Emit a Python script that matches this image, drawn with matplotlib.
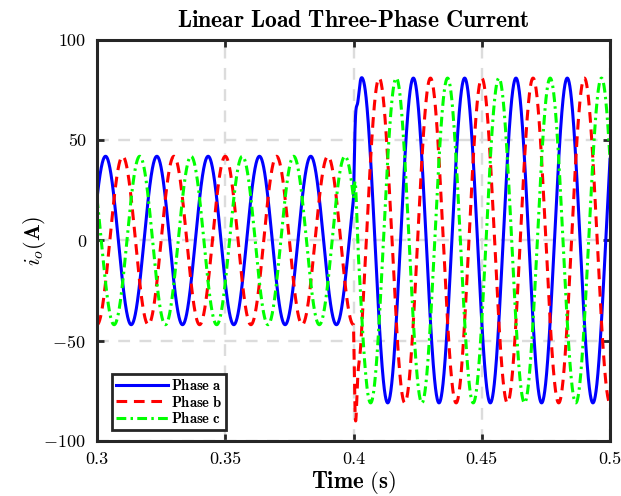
import numpy as np
import matplotlib
matplotlib.use("Agg")
import matplotlib.pyplot as plt

plt.rcParams["mathtext.fontset"] = "cm"
plt.rcParams["font.family"] = "serif"
plt.rcParams["font.serif"] = ["cmr10", "DejaVu Serif"]
plt.rcParams["axes.formatter.use_mathtext"] = True

# signal parameters
t_start, t_end = 0.3, 0.5
freq_hz = 50.0
step_time = 0.4
amp_before = 42.0
amp_after = 81.0
phase_deg = [30.0, -90.0, 150.0]
ring_hz = 500.0
ring_tau = 0.00079
labels = [r"$\mathbf{Phase\ a}$", r"$\mathbf{Phase\ b}$", r"$\mathbf{Phase\ c}$"]
colors = ["#0000ff", "#ff0000", "#00ff00"]
styles = ["-", (0, (3.5, 2.2)), (0, (3.2, 1.4, 0.8, 1.4))]

t = np.arange(t_start, t_end + 1e-6, 1e-5)
w = 2 * np.pi * freq_hz

fig = plt.figure(figsize=(6.21, 4.96), dpi=100)
ax = fig.add_axes([0.1562, 0.1109, 0.8261, 0.8085])

for ph, lab, col, ls in zip(phase_deg, labels, colors, styles):
    p = np.deg2rad(ph)
    old = amp_before * np.sin(w * t + p)
    new = amp_after * np.sin(w * t + p)
    jump = (amp_before - amp_after) * np.sin(w * step_time + p)
    dt = t - step_time
    ring = jump * np.exp(-np.clip(dt, 0, None) / ring_tau) * np.cos(2 * np.pi * ring_hz * dt)
    i = np.where(t < step_time, old, new + ring)
    ax.plot(t, i, color=col, linestyle=ls, lw=2.2, label=lab)

ax.set_xlim(0.3, 0.5)
ax.set_ylim(-100, 100)
ax.set_xticks([0.3, 0.35, 0.4, 0.45, 0.5])
ax.set_yticks([-100, -50, 0, 50, 100])
ax.set_xticklabels(["0.3", "0.35", "0.4", "0.45", "0.5"])
ax.set_yticklabels(["$-100$", "$-50$", "0", "50", "100"])
ax.tick_params(direction="in", top=True, right=True, length=5, width=2,
               labelsize=13, colors="#262626", pad=8)
for lbl in ax.get_xticklabels() + ax.get_yticklabels():
    lbl.set_color("black")
ax.grid(True, linestyle=(0, (5, 4)), color="#dcdcdc", lw=1.7)
for s in ax.spines.values():
    s.set_linewidth(2.2)
    s.set_color("#262626")

ax.set_title(r"$\mathbf{Linear\ Load\ Three\text{-}Phase\ Current}$", fontsize=17, pad=9)
ax.set_xlabel(r"$\mathbf{Time\ (s)}$", fontsize=16.5, labelpad=1)
ax.set_ylabel(r"$i_o\mathbf{(A)}$", fontsize=16, labelpad=-3)

leg = ax.legend(loc="lower left", bbox_to_anchor=(0.015, 0.01), fontsize=10.5,
                handlelength=3.6, handletextpad=0.2, borderpad=0.25,
                labelspacing=0.1, fancybox=False, framealpha=1)
leg.get_frame().set_edgecolor("#262626")
leg.get_frame().set_linewidth(2)

fig.savefig("out.png", dpi=100)
